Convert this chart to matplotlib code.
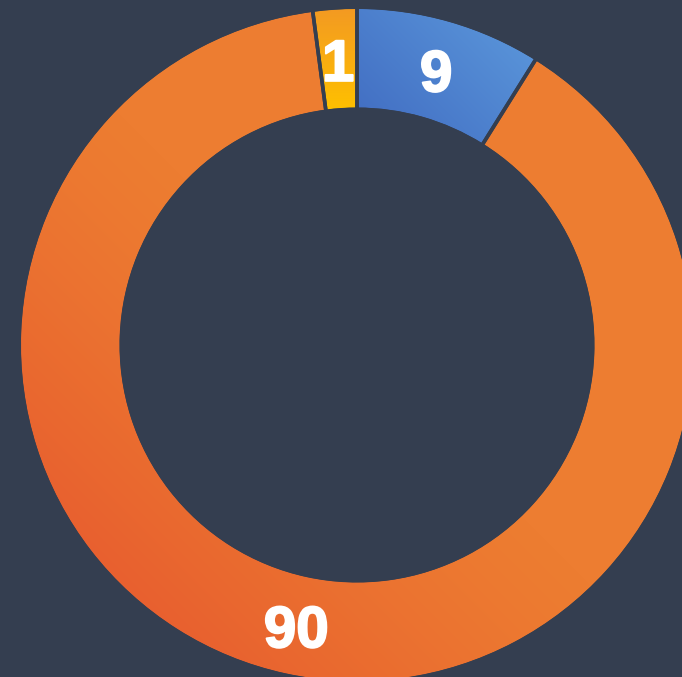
import numpy as np
import matplotlib
matplotlib.use("Agg")
import matplotlib.pyplot as plt
from matplotlib.patches import Wedge
from matplotlib.colors import LinearSegmentedColormap
import matplotlib.patheffects as pe

# slice sizes (percent of the ring) and the labels printed on them
values = [8.9, 89.0, 2.1]
labels = ["9", "90", "1"]
# (colour at top-right, colour at bottom-left) for each slice
colors = [("#5892d8", "#4370c4"), ("#ed7d31", "#e8602f"), ("#f39a22", "#ffc000")]
grad_dir = [(-1, -1), (-1, -1), (0, -1)]

bg = "#343e50"
W, H = 682, 677
cx, cy = 357, 677 - 345
r_out, r_in = 336, 237.5

fig = plt.figure(figsize=(W / 100, H / 100), dpi=100, facecolor=bg)
ax = fig.add_axes([0, 0, 1, 1])
ax.set_xlim(0, W)
ax.set_ylim(0, H)
ax.set_facecolor(bg)
ax.axis("off")

xx, yy = np.meshgrid(np.arange(W) + 0.5, np.arange(H)[::-1] + 0.5)

total = sum(values)
start = 90.0
for val, lab, (c1, c2), d in zip(values, labels, colors, grad_dir):
    span = 360.0 * val / total
    t1, t2 = start - span, start
    w = Wedge((cx, cy), r_out, t1, t2, width=r_out - r_in, facecolor="none",
              edgecolor="none")
    ax.add_patch(w)

    # gradient over slice bounding box
    angs = np.radians(np.linspace(t1, t2, 50))
    px = np.concatenate([cx + r_out * np.cos(angs), cx + r_in * np.cos(angs)])
    py = np.concatenate([cy + r_out * np.sin(angs), cy + r_in * np.sin(angs)])
    dx, dy = d
    proj = xx * dx + yy * dy
    p = px * dx + py * dy
    t = np.clip((proj - p.min()) / (p.max() - p.min()), 0, 1)
    if len(lab) == 2:
        # big slice: flat over most of it, darker only towards bottom-left
        t = np.clip((t - 0.5) / 0.5, 0, 1) ** 1.3
    cmap = LinearSegmentedColormap.from_list("g", [c1, c2])
    im = ax.imshow(t, cmap=cmap, vmin=0, vmax=1, extent=(0, W, 0, H),
                   origin="upper", interpolation="bilinear", zorder=1)
    im.set_clip_path(w)

    # separators
    ax.add_patch(Wedge((cx, cy), r_out + 2, t1, t2, width=r_out - r_in + 4,
                       facecolor="none", edgecolor=bg, linewidth=2.6, zorder=2))

    mid = np.radians((t1 + t2) / 2)
    rm = (r_out + r_in) / 2
    ax.text(cx + rm * np.cos(mid), cy + rm * np.sin(mid) - 7, lab, color="white",
            fontsize=42, fontweight="bold", family="Liberation Sans",
            ha="center", va="center", zorder=3,
            path_effects=[pe.withStroke(linewidth=1.4, foreground="white")])
    start = t1

fig.savefig("out.png", dpi=100, facecolor=bg)
